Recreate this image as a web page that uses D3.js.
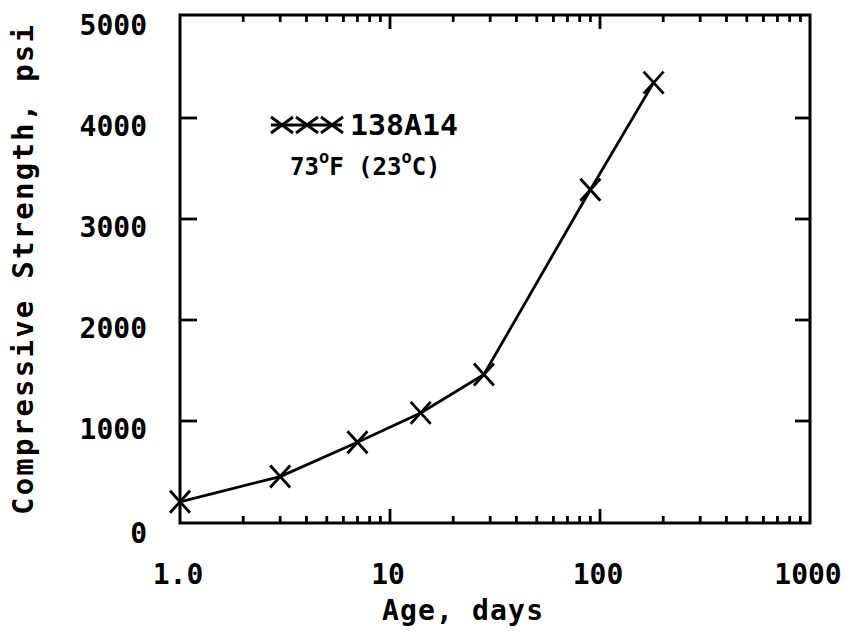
<!DOCTYPE html>
<html><head><meta charset="utf-8">
<script src="https://cdn.jsdelivr.net/npm/d3@7"></script>
<style>body{margin:0;background:#fff}svg{display:block}text{font-family:"DejaVu Sans Mono",monospace;font-weight:bold;fill:#000}</style>
</head><body>
<svg id="c" width="848" height="631"></svg>
<script>
const ages = [1, 3, 7, 14, 28, 90, 180];
const strength = [200, 450, 790, 1080, 1460, 3290, 4350];
const xTicks = [1, 10, 100, 1000];
const xTickLabels = ["1.0", "10", "100", "1000"];
const yTicks = [0, 1000, 2000, 3000, 4000, 5000];
const yTickLabels = ["0", "1000", "2000", "3000", "4000", "5000"];
const seriesName = "138A14";
const yTitle = "Compressive Strength, psi";
const xTitle = "Age, days";

const svg = d3.select("#c");
const L = 180, R = 810, T = 15, B = 523;
const x = d3.scaleLog().domain([1, 1000]).range([L, R]);
const y = d3.scaleLinear().domain([0, 5000]).range([522, 17]);
const SW = 2.8;

// frame
svg.append("rect").attr("x", L).attr("y", T).attr("width", R - L).attr("height", B - T)
  .attr("fill", "none").attr("stroke", "#000").attr("stroke-width", 3);

// minor & major x ticks (top & bottom, inward)
const minor = [];
for (let d = 1; d < 1000; d *= 10) for (let k = 2; k <= 9; k++) minor.push(d * k);
const g = svg.append("g").attr("stroke", "#000").attr("stroke-width", SW);
minor.forEach(v => {
  g.append("line").attr("x1", x(v)).attr("x2", x(v)).attr("y1", B).attr("y2", B - 7);
  g.append("line").attr("x1", x(v)).attr("x2", x(v)).attr("y1", T).attr("y2", T + 7);
});
[10, 100].forEach(v => {
  g.append("line").attr("x1", x(v)).attr("x2", x(v)).attr("y1", B).attr("y2", B - 14);
  g.append("line").attr("x1", x(v)).attr("x2", x(v)).attr("y1", T).attr("y2", T + 14);
});
yTicks.slice(1, -1).forEach(v => {
  g.append("line").attr("x1", L).attr("x2", L + 17).attr("y1", y(v)).attr("y2", y(v));
  g.append("line").attr("x1", R).attr("x2", R - 15).attr("y1", y(v)).attr("y2", y(v));
});

// tick labels
xTicks.forEach((v, i) => {
  svg.append("text").attr("x", x(v) - 2).attr("y", 584).attr("text-anchor", "middle")
    .attr("font-size", 28).text(xTickLabels[i]);
});
yTicks.forEach((v, i) => {
  svg.append("text").attr("x", 147).attr("y", y(v) + (v === 0 ? 13 : 10)).attr("text-anchor", "end")
    .attr("dominant-baseline", "middle").attr("font-size", 28).text(yTickLabels[i]);
});

// axis titles
svg.append("text").attr("x", 382).attr("y", 620).attr("font-size", 28)
  .attr("textLength", 161).attr("lengthAdjust", "spacing").text(xTitle);
svg.append("text").attr("transform", "translate(33,515) rotate(-90)").attr("font-size", 29)
  .attr("textLength", 490).attr("lengthAdjust", "spacing").text(yTitle);

// line
const line = d3.line().x((d, i) => x(ages[i])).y((d, i) => y(strength[i]));
svg.append("path").datum(strength).attr("d", line).attr("fill", "none")
  .attr("stroke", "#000").attr("stroke-width", SW);

// markers
const mk = (cx, cy, sx, sy) => `M${cx - sx},${cy - sy}L${cx + sx},${cy + sy}M${cx - sx},${cy + sy}L${cx + sx},${cy - sy}`;
svg.append("g").selectAll("path").data(strength).join("path")
  .attr("d", (d, i) => mk(x(ages[i]), y(d), 10, 11))
  .attr("stroke", "#000").attr("stroke-width", SW).attr("fill", "none");

// legend
const ly = 125;
svg.append("line").attr("x1", 271).attr("x2", 342).attr("y1", ly).attr("y2", ly)
  .attr("stroke", "#000").attr("stroke-width", SW);
[282, 307, 332].forEach(cx => svg.append("path").attr("d", mk(cx, ly, 11, 8))
  .attr("stroke", "#000").attr("stroke-width", SW).attr("fill", "none"));
svg.append("text").attr("x", 350).attr("y", ly + 10).attr("font-size", 29)
  .attr("textLength", 108).attr("lengthAdjust", "spacingAndGlyphs").text(seriesName);
const t2 = svg.append("text").attr("x", 290).attr("y", 175).attr("font-size", 24);
t2.append("tspan").text("73");
t2.append("tspan").attr("font-size", 17).attr("dy", -12).text("o");
t2.append("tspan").attr("dy", 12).text("F (23");
t2.append("tspan").attr("font-size", 17).attr("dy", -12).text("o");
t2.append("tspan").attr("dy", 12).text("C)");
</script>
</body></html>
